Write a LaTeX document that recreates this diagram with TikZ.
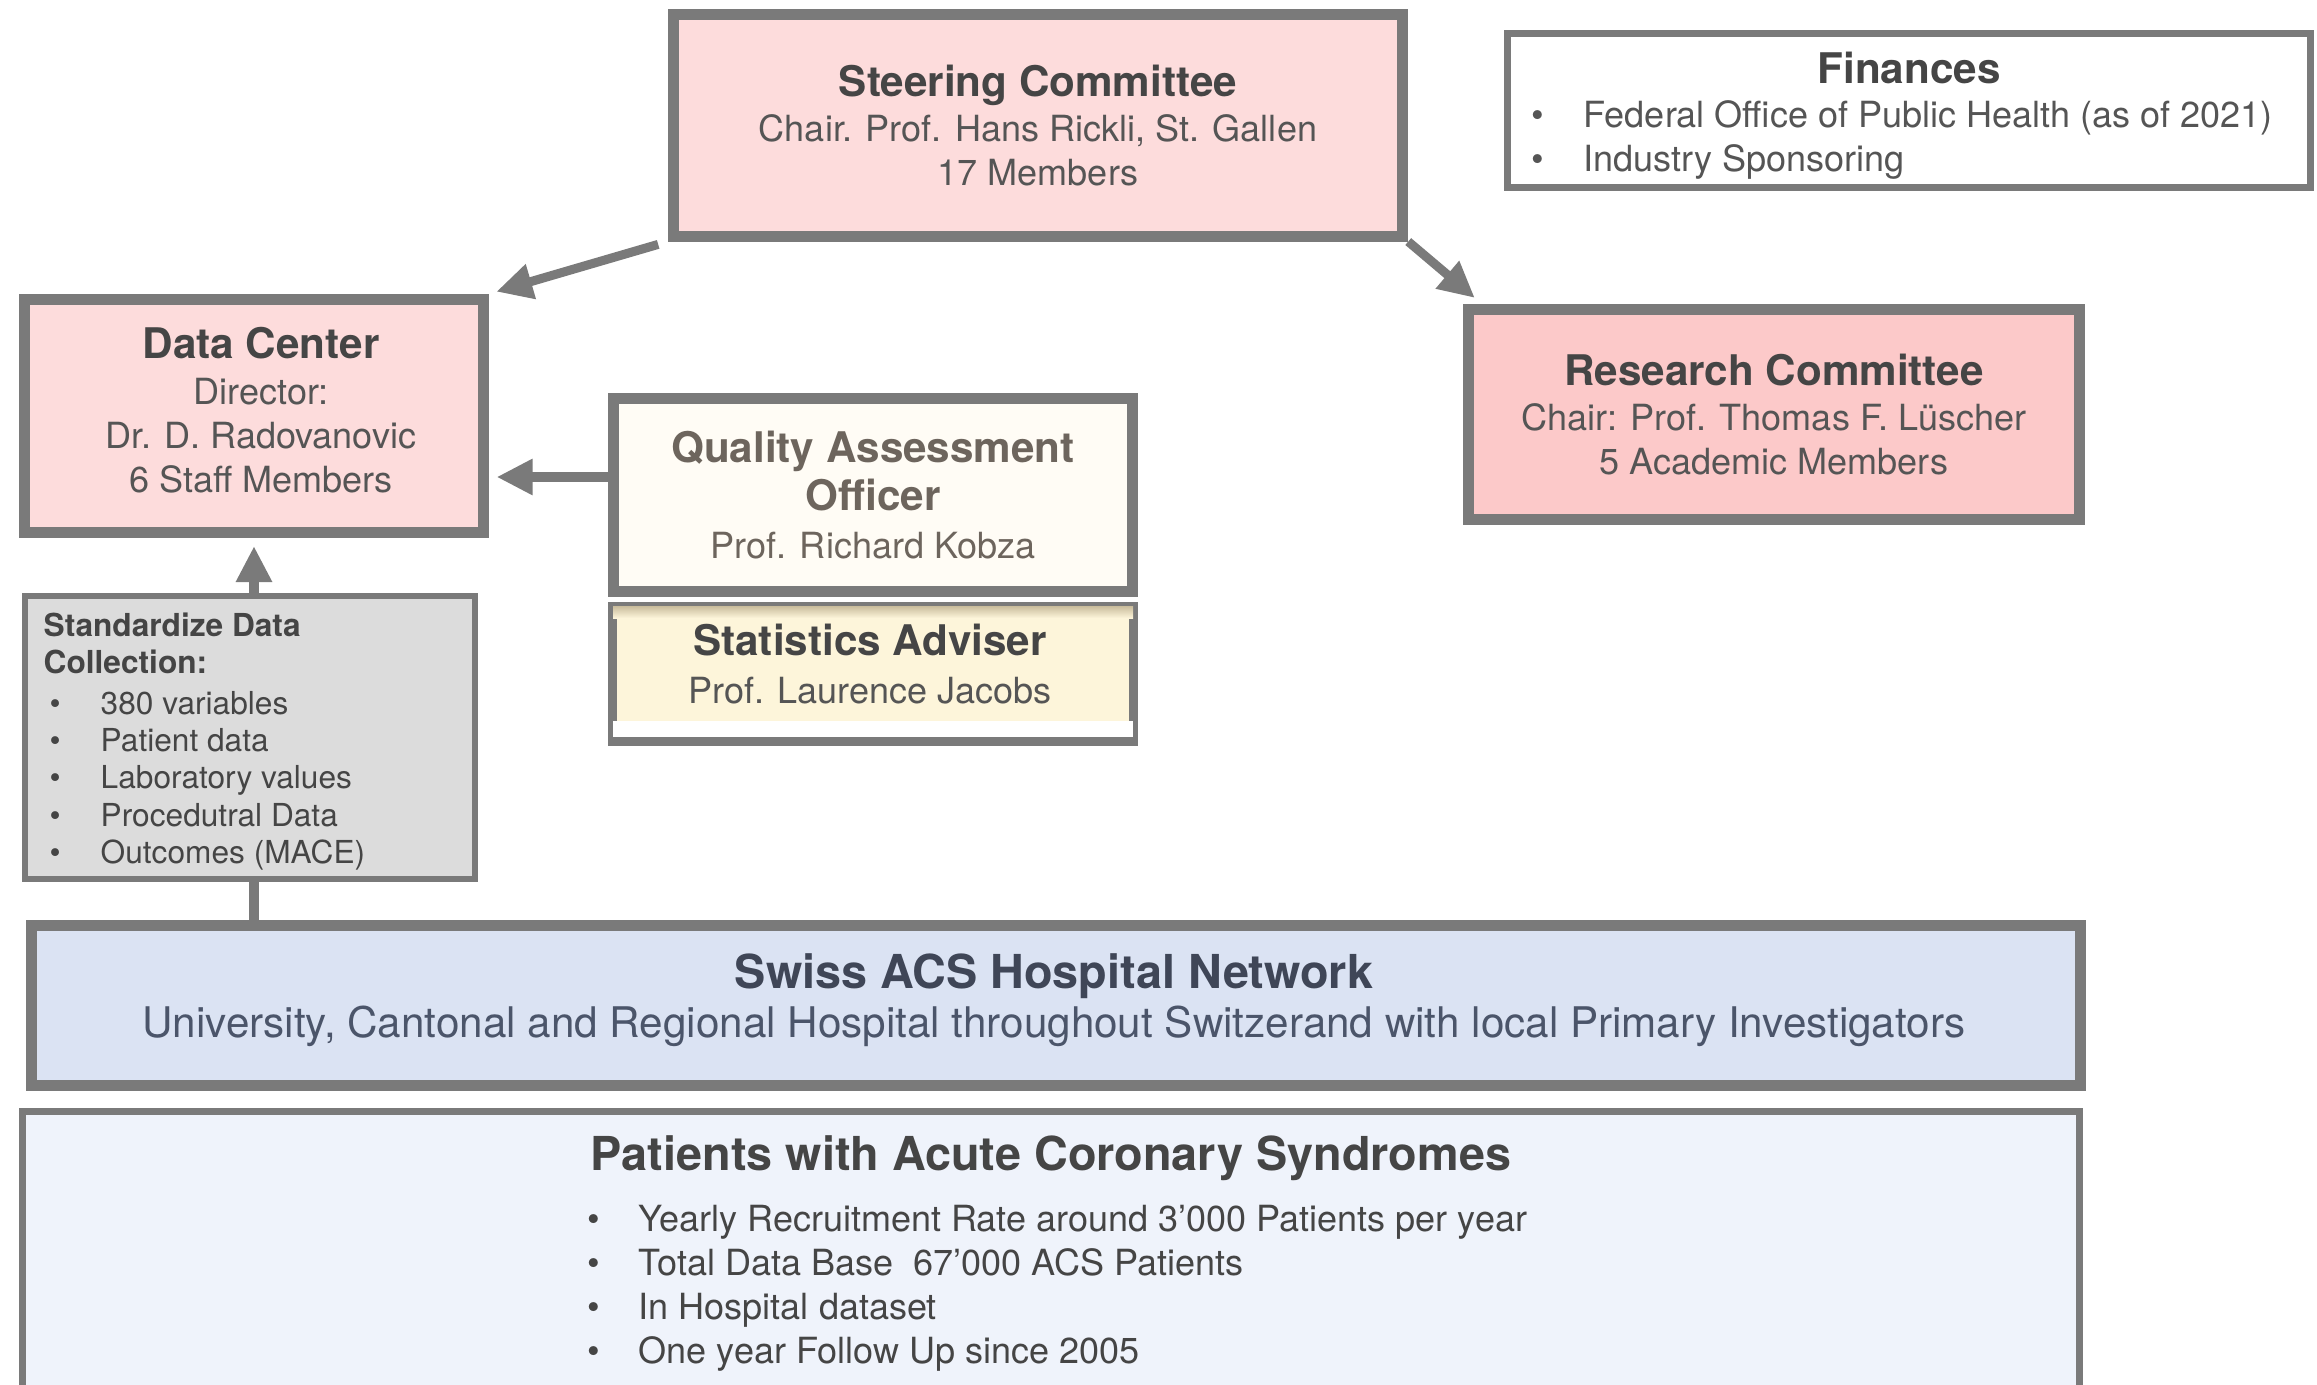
\documentclass[tikz,border=0pt]{standalone}
\usepackage{fontspec}
\setmainfont{TeX Gyre Heros}
\usetikzlibrary{arrows.meta,calc}
\tikzset {>={Triangle[length=0.36cm,width=0.34cm]}}

\definecolor{rim}{HTML}{7A7A7A}
\definecolor{pinkA}{HTML}{FDDCDC}
\definecolor{pinkB}{HTML}{FCC9C9}
\definecolor{cream}{HTML}{FFFCF5}
\definecolor{butter}{HTML}{FDF5DA}
\definecolor{statband}{HTML}{C9BC9C}
\definecolor{greybox}{HTML}{DCDCDC}
\definecolor{blueA}{HTML}{DBE3F3}
\definecolor{blueB}{HTML}{EFF3FB}
\definecolor{inkA}{HTML}{454545}
\definecolor{inkB}{HTML}{555555}
\definecolor{inkQ}{HTML}{6D655D}
\definecolor{inkS}{HTML}{3F4657}
\definecolor{inkU}{HTML}{4B556A}

\newcommand\ttl[1]{{\fontsize{12}{12.5}\selectfont\bfseries #1}}
\newcommand\bigttl[1]{{\fontsize{13.3}{14}\selectfont\bfseries #1}}
\newcommand\bul[1][0.52cm]{\makebox[#1][l]{\textbullet}}

\tikzset{
  box/.style={draw=rim,line width=0.11cm,inner sep=0pt,align=center,text=inkB,
    font=\fontsize{10.25}{12.5}\selectfont},
  txt/.style={inner sep=0pt,align=left,text=inkB,font=\fontsize{10.25}{12.5}\selectfont},
  arr/.style={draw=rim,line width=0.09cm,->},
}

\begin{document}
\begin{tikzpicture}[x=0.01cm,y=-0.01cm]
\useasboundingbox (0,0) rectangle (2317,1384);

% committees and offices
\node[box,fill=pinkA,minimum width=7.29cm,minimum height=2.21cm] (steer) at (1038,125.5)
  {\ttl{\color{inkA}Steering Committee}\\[0.5pt] Chair. Prof. Hans Rickli, St. Gallen\\ 17 Members};

\node[box,fill=white,line width=0.07cm,minimum width=8.03cm,minimum height=1.54cm] (fin) at (1909,110.5) {};
\node[text=inkA] (fintitle) at (1909,68) {\ttl{Finances}};
\node[txt,anchor=north west] (finlist) at (1531,100)
  {\bul Federal Office of Public Health (as of 2021)\\ \bul Industry Sponsoring};

\node[box,fill=pinkA,minimum width=4.58cm,minimum height=2.33cm] (datac) at (254,416) {};
\node[txt,align=center] (datactxt) at (261,410)
  {\ttl{\color{inkA}Data Center}\\[0.5pt] Director:\\ Dr. D. Radovanovic\\ 6 Staff Members};

\node[box,fill=pinkB,minimum width=6.11cm,minimum height=2.1cm] (research) at (1774,414.5)
  {\ttl{\color{inkA}Research Committee}\\[0.5pt] Chair: Prof. Thomas F. Lüscher\\ 5 Academic Members};

\node[box,fill=cream,text=inkQ,minimum width=5.18cm,minimum height=1.92cm] (quality) at (873,495)
  {\ttl{Quality Assessment}\\[1.3pt] \ttl{Officer}\\[1pt] Prof. Richard Kobza};

\node[box,fill=butter,line width=0.09cm,minimum width=5.21cm,minimum height=1.35cm] (stats) at (873,674) {};
\shade[top color=statband,bottom color=butter] (613,606) rectangle (1133,618);
\fill[white] (613,721) rectangle (1133,737);
\node[text=inkA,align=center,font=\fontsize{10.25}{12.5}\selectfont] (statstxt) at (870,664)
  {\ttl{Statistics Adviser}\\[1pt] \color{inkB}Prof. Laurence Jacobs};

% data collection
\node[box,fill=greybox,line width=0.06cm,minimum width=4.49cm,minimum height=2.83cm] (stddata) at (250,737.5) {};
\node[txt,anchor=north west,text=inkA,font=\fontsize{9}{10.6}\selectfont] (stdlist) at (43,612)
  {\textbf{Standardize Data}\\ \textbf{Collection:}\\[1pt]
   \hspace*{0.06cm}\bul[0.51cm]380 variables\\
   \hspace*{0.06cm}\bul[0.51cm]Patient data\\
   \hspace*{0.06cm}\bul[0.51cm]Laboratory values\\
   \hspace*{0.06cm}\bul[0.51cm]Procedutral Data\\
   \hspace*{0.06cm}\bul[0.51cm]Outcomes (MACE)};

% network and patients
\node[box,fill=blueA,minimum width=20.47cm,minimum height=1.6cm] (swiss) at (1056,1005.5) {};
\node[align=center,inner sep=0pt] (swisstxt) at (1054,1000)
  {\bigttl{\color{inkS}Swiss ACS Hospital Network}\\[2pt]
   {\fontsize{12}{12.5}\selectfont\color{inkU}University, Cantonal and Regional Hospital throughout Switzerand with local Primary Investigators}};

\node[box,fill=blueB,line width=0.07cm,minimum width=20.55cm,minimum height=3.05cm] (patients) at (1051,1264) {};
\node[anchor=base,text=inkA] (pattitle) at (1051,1170) {\bigttl{Patients with Acute Coronary Syndromes}};
\node[txt,anchor=north west,text=inkA] (patlist) at (587,1205)
  {\bul[0.51cm]Yearly Recruitment Rate around 3’000 Patients per year\\
   \bul[0.51cm]Total Data Base\ \ 67’000 ACS Patients\\
   \bul[0.51cm]In Hospital dataset\\
   \bul[0.51cm]One year Follow Up since 2005};

% connectors
\coordinate (qa) at ([yshift=0.18cm]quality.west);
\draw[arr,shorten <=0.1cm,shorten >=0.08cm] (steer.south west) -- (datac.north east);
\draw[arr] (steer.south east) -- ([xshift=0.12cm,yshift=0.06cm]research.north west);
\draw[arr,shorten >=0.08cm] (qa) -- (qa -| datac.east);
\draw[arr,line width=0.1cm,shorten >=0.08cm] (stddata.north -| datac.south) -- (datac.south);
\draw[draw=rim,line width=0.1cm] (swiss.north -| datac.south) -- (stddata.south -| datac.south);
\end{tikzpicture}
\end{document}
